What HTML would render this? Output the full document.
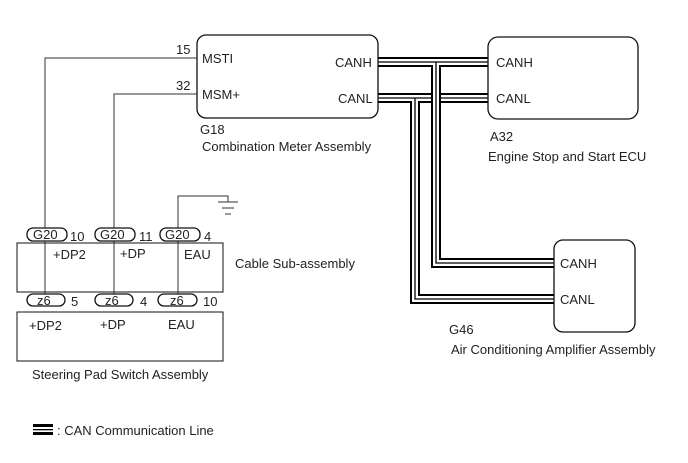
<!DOCTYPE html>
<html><head><meta charset="utf-8"><style>
html,body{margin:0;padding:0;background:#fff;}
svg{display:block;}
text{font-family:"Liberation Sans",Arial,sans-serif;font-size:13px;fill:#222;}
</style></head><body>
<svg width="688" height="463" viewBox="0 0 688 463" xmlns="http://www.w3.org/2000/svg">
<g fill="none" stroke="#333" stroke-width="1">
<polyline points="197,58 45,58 45,228"/>
<polyline points="197,94 114,94 114,228"/>
<line x1="45" y1="240" x2="45" y2="295"/>
<line x1="114" y1="240" x2="114" y2="295"/>
<line x1="178" y1="240" x2="178" y2="295"/>
<polyline points="178,228 178,196 228,196 228,202"/>
<line x1="218" y1="202" x2="238" y2="202"/>
<line x1="222" y1="208" x2="234" y2="208"/>
<line x1="225" y1="214" x2="231" y2="214"/>
</g>
<!-- CANL bus -->
<g fill="none">
<polyline points="378,98 488,98" stroke="#000" stroke-width="10"/>
<polyline points="415,98 415,299 555,299" stroke="#000" stroke-width="10"/>
<polyline points="378,98 488,98" stroke="#fff" stroke-width="6"/>
<polyline points="415,98 415,299 555,299" stroke="#fff" stroke-width="6"/>
<polyline points="378,98 488,98" stroke="#000" stroke-width="1.3"/>
<polyline points="415,98 415,299 555,299" stroke="#000" stroke-width="1.3"/>
</g>
<!-- CANH bus -->
<g fill="none">
<polyline points="378,62 488,62" stroke="#000" stroke-width="10"/>
<polyline points="436,62 436,263 555,263" stroke="#000" stroke-width="10"/>
<polyline points="378,62 488,62" stroke="#fff" stroke-width="6"/>
<polyline points="436,62 436,263 555,263" stroke="#fff" stroke-width="6"/>
<polyline points="378,62 488,62" stroke="#000" stroke-width="1.3"/>
<polyline points="436,62 436,263 555,263" stroke="#000" stroke-width="1.3"/>
</g>
<!-- boxes -->
<g fill="#fff" stroke="#111" stroke-width="1.3">
<rect x="197" y="35" width="181" height="83" rx="9"/>
<rect x="488" y="37" width="150" height="82" rx="10"/>
<rect x="554" y="240" width="81" height="92" rx="9"/>
<rect x="17" y="243" width="206" height="49" stroke-width="1"/>
<rect x="17" y="312" width="206" height="49" stroke-width="1"/>
<rect x="27" y="228" width="40" height="13" rx="6"/>
<rect x="95" y="228" width="40" height="13" rx="6"/>
<rect x="160" y="228" width="40" height="13" rx="6"/>
<rect x="27" y="294" width="38" height="12" rx="6"/>
<rect x="95" y="294" width="38" height="12" rx="6"/>
<rect x="158" y="294" width="39" height="12" rx="6"/>
</g>
<g stroke="#333" stroke-width="1"><line x1="45" y1="243" x2="45" y2="292"/><line x1="114" y1="243" x2="114" y2="292"/><line x1="178" y1="243" x2="178" y2="292"/></g>
<!-- legend -->
<rect x="33" y="424" width="20" height="3" fill="#000"/>
<rect x="33" y="429" width="20" height="1.3" fill="#000"/>
<rect x="33" y="432" width="20" height="3" fill="#000"/>
<text x="57" y="435">: CAN Communication Line</text>
<!-- text -->
<text x="176" y="54">15</text>
<text x="176" y="90">32</text>
<text x="202" y="63">MSTI</text>
<text x="202" y="99">MSM+</text>
<text x="335" y="67">CANH</text>
<text x="338" y="103">CANL</text>
<text x="200" y="134">G18</text>
<text x="202" y="151">Combination Meter Assembly</text>
<text x="496" y="67">CANH</text>
<text x="496" y="103">CANL</text>
<text x="490" y="141">A32</text>
<text x="488" y="161">Engine Stop and Start ECU</text>
<text x="560" y="268">CANH</text>
<text x="560" y="304">CANL</text>
<text x="449" y="334">G46</text>
<text x="451" y="354">Air Conditioning Amplifier Assembly</text>
<text x="33" y="239">G20</text><text x="70" y="241">10</text>
<text x="100" y="239">G20</text><text x="139" y="241">11</text>
<text x="165" y="239">G20</text><text x="204" y="241">4</text>
<text x="53" y="259">+DP2</text>
<text x="120" y="258">+DP</text>
<text x="184" y="259">EAU</text>
<text x="235" y="268">Cable Sub-assembly</text>
<text x="37" y="305">z6</text><text x="71" y="306">5</text>
<text x="105" y="305">z6</text><text x="140" y="306">4</text>
<text x="170" y="305">z6</text><text x="203" y="306">10</text>
<text x="29" y="330">+DP2</text>
<text x="100" y="329">+DP</text>
<text x="168" y="329">EAU</text>
<text x="32" y="379">Steering Pad Switch Assembly</text>
</svg>
</body></html>
